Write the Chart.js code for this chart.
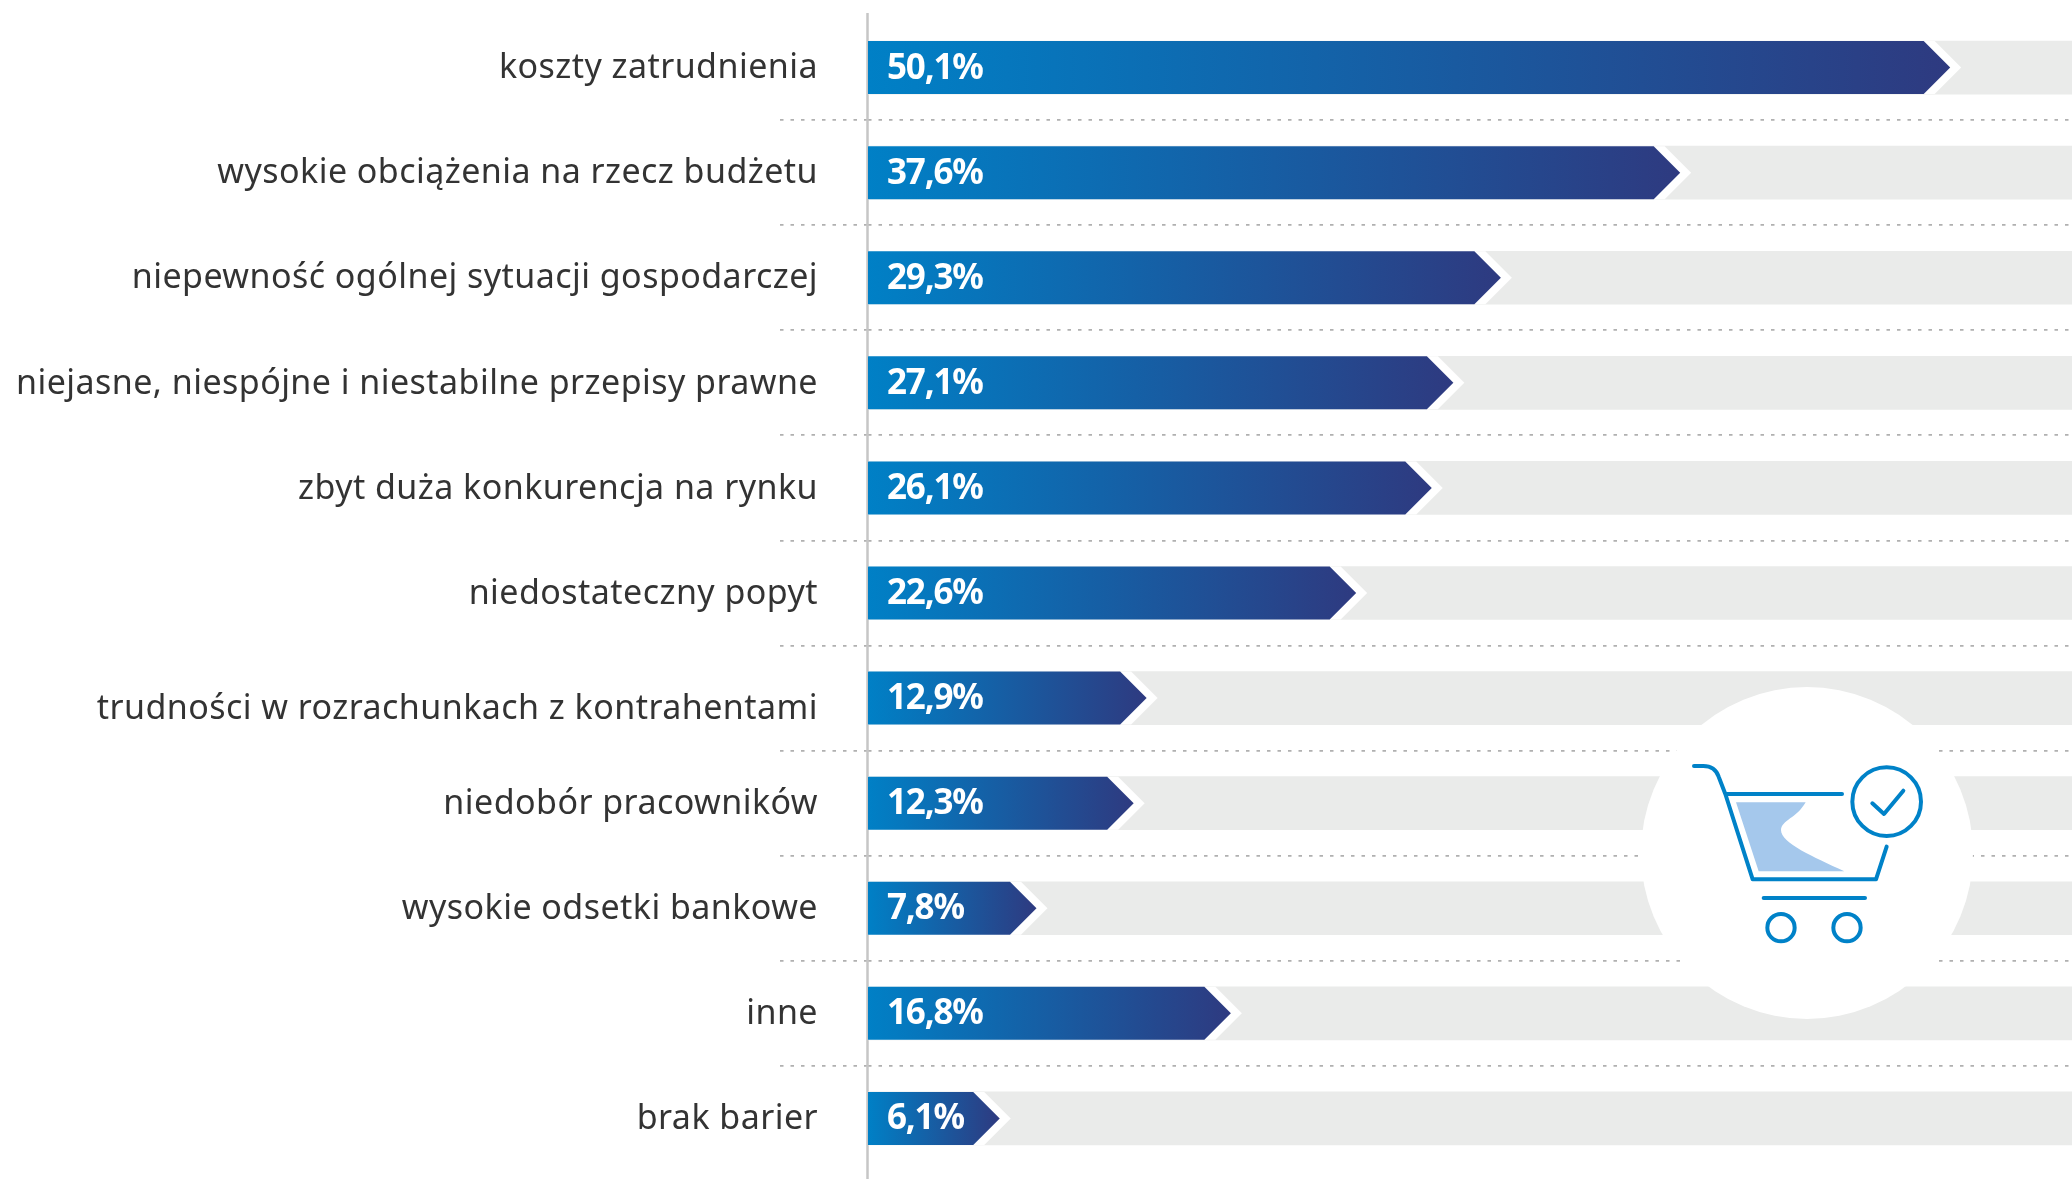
<!DOCTYPE html>
<html>
<head>
<meta charset="utf-8">
<style>
  html, body { margin: 0; padding: 0; background: #fff; }
  canvas { display: block; }
</style>
<script src="https://cdn.jsdelivr.net/npm/chart.js@4"></script>
</head>
<body>
<canvas id="chart" width="2072" height="1179"></canvas>
<script>
const categories = [
  'koszty zatrudnienia',
  'wysokie obciążenia na rzecz budżetu',
  'niepewność ogólnej sytuacji gospodarczej',
  'niejasne, niespójne i niestabilne przepisy prawne',
  'zbyt duża konkurencja na rynku',
  'niedostateczny popyt',
  'trudności w rozrachunkach z kontrahentami',
  'niedobór pracowników',
  'wysokie odsetki bankowe',
  'inne',
  'brak barier'
];
const values = [50.1, 37.6, 29.3, 27.1, 26.1, 22.6, 12.9, 12.3, 7.8, 16.8, 6.1];
const axisMax = 55.74;
const trackValues = categories.map(() => axisMax);

const FONT = '"Noto Sans"';
const GAP = 11; // white gap between the arrow and the grey track

function arrowPath(ctx, base, tip, cy, half) {
  ctx.beginPath();
  ctx.moveTo(base, cy - half);
  ctx.lineTo(tip - half, cy - half);
  ctx.lineTo(tip, cy);
  ctx.lineTo(tip - half, cy + half);
  ctx.lineTo(base, cy + half);
  ctx.closePath();
}

// bar element with a pointed end and a white outline cut into the track
class ArrowBar extends Chart.BarElement {
  draw(ctx) {
    const {x, y, base, height} = this.getProps(['x', 'y', 'base', 'height']);
    const half = height / 2;
    ctx.save();
    arrowPath(ctx, base, x + GAP, y, half);
    ctx.fillStyle = '#ffffff';
    ctx.fill();
    const grad = ctx.createLinearGradient(base, 0, x, 0);
    grad.addColorStop(0, '#0080c6');
    grad.addColorStop(1, '#2e3a80');
    arrowPath(ctx, base, x, y, half);
    ctx.fillStyle = grad;
    ctx.fill();
    ctx.restore();
  }
}
ArrowBar.id = 'arrowBar';
ArrowBar.defaults = Chart.BarElement.defaults;

class ArrowController extends Chart.BarController {}
ArrowController.id = 'arrow';
ArrowController.defaults = {dataElementType: 'arrowBar'};
ArrowController.overrides = Chart.BarController.overrides;

Chart.register(ArrowBar, ArrowController);

const valueLabels = {
  id: 'valueLabels',
  afterDatasetsDraw(chart) {
    const ctx = chart.ctx;
    ctx.save();
    ctx.fillStyle = '#ffffff';
    ctx.font = 'bold 35px ' + FONT;
    ctx.letterSpacing = '-1.2px';
    ctx.textAlign = 'left';
    ctx.textBaseline = 'middle';
    chart.getDatasetMeta(0).data.forEach((bar, i) => {
      ctx.fillText(values[i].toFixed(1).replace('.', ',') + '%', bar.base + 19, bar.y + 1);
    });
    ctx.restore();
  }
};

// vertical axis line runs a bit past the plot area
const axisLine = {
  id: 'axisLine',
  beforeDatasetsDraw(chart) {
    const ctx = chart.ctx;
    const x0 = chart.scales.x.getPixelForValue(0);
    ctx.save();
    ctx.strokeStyle = '#c6c6c6';
    ctx.lineWidth = 2.5;
    ctx.beginPath();
    ctx.moveTo(x0 - 0.5, 13);
    ctx.lineTo(x0 - 0.5, 1179);
    ctx.stroke();
    ctx.restore();
  }
};

// this one label sits lower than its bar in the original
const shiftLabel = {
  id: 'shiftLabel',
  beforeDraw(chart) {
    const item = chart.scales.y.getLabelItems()[6];
    if (!item.shifted) {
      item.options.translation[1] += 10;
      item.shifted = true;
    }
    chart.ctx.letterSpacing = '0.45px';
  },
  beforeDatasetsDraw(chart) {
    chart.ctx.letterSpacing = '0px';
  }
};

const cartIcon = {
  id: 'cartIcon',
  afterDatasetsDraw(chart) {
    const ctx = chart.ctx;
    ctx.save();
    ctx.fillStyle = '#ffffff';
    ctx.beginPath();
    ctx.arc(1807, 853, 166, 0, Math.PI * 2);
    ctx.fill();

    ctx.translate(1600, 670);
    ctx.scale(1 / 3, 1 / 3);
    ctx.fillStyle = '#a5c8ec';
    ctx.fill(new Path2D('M408 397 L617 397 C590 445 545 450 543 480 C543 520 640 560 733 604 L476 604 Z'));
    ctx.strokeStyle = '#0082c8';
    ctx.lineWidth = 12;
    ctx.lineCap = 'round';
    ctx.lineJoin = 'round';
    ctx.stroke(new Path2D('M282 288 L310 288 Q345 288 356 320 L376 372 L458 628 L828 628 L860 530'));
    ctx.stroke(new Path2D('M380 372 L726 372'));
    ctx.stroke(new Path2D('M491 684 L795 684'));
    ctx.stroke(new Path2D('M817 400 L852 432 L910 362'));
    [[543, 773, 41], [741, 773, 41], [860, 395, 103]].forEach(c => {
      ctx.beginPath();
      ctx.arc(c[0], c[1], c[2], 0, Math.PI * 2);
      ctx.stroke();
    });
    ctx.restore();
  }
};

const dotColor = (c) => (c.index > 0 ? '#b0b0b0' : 'transparent');

new Chart(document.getElementById('chart'), {
  type: 'arrow',
  data: {
    labels: categories,
    datasets: [
      {data: values, grouped: false, barThickness: 53},
      {type: 'bar', data: trackValues, grouped: false, barThickness: 53, backgroundColor: '#eaebea'}
    ]
  },
  plugins: [shiftLabel, axisLine, valueLabels, cartIcon],
  options: {
    indexAxis: 'y',
    responsive: false,
    animation: false,
    devicePixelRatio: 1,
    layout: {padding: {top: 15, bottom: 8, left: 0, right: 0}},
    plugins: {legend: {display: false}, tooltip: {enabled: false}},
    scales: {
      x: {type: 'linear', display: false, min: 0, max: axisMax},
      y: {
        type: 'category',
        offset: true,
        afterFit(scale) { scale.width = 868; },
        border: {display: false, dash: [3.5, 7]},
        grid: {
          offset: true,
          color: dotColor,
          tickColor: dotColor,
          lineWidth: 1.8,
          tickWidth: 1.8,
          tickBorderDash: [3.5, 7],
          tickLength: 88,
          drawTicks: true
        },
        ticks: {
          autoSkip: false,
          padding: -38,
          labelOffset: 1,
          color: '#333333',
          font: {family: FONT, size: 34}
        }
      }
    }
  }
});
</script>
</body>
</html>
